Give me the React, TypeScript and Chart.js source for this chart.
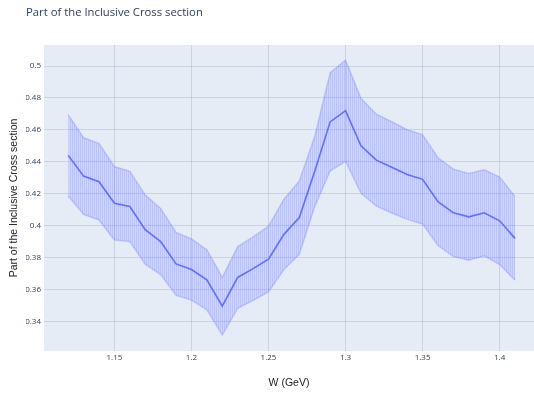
import React, { useEffect, useRef } from "react";
import { Chart, registerables } from "chart.js";

Chart.register(...registerables);

const W = [
  1.12, 1.13, 1.14, 1.15, 1.16, 1.17, 1.18, 1.19, 1.2, 1.21,
  1.22, 1.23, 1.24, 1.25, 1.26, 1.27, 1.28, 1.29, 1.3, 1.31,
  1.32, 1.33, 1.34, 1.35, 1.36, 1.37, 1.38, 1.39, 1.4, 1.41,
];
const partValues = [
  0.444, 0.431, 0.4275, 0.414, 0.412, 0.3975, 0.39, 0.376, 0.3725, 0.366,
  0.3495, 0.3675, 0.373, 0.379, 0.3945, 0.405, 0.434, 0.465, 0.472, 0.45,
  0.441, 0.4365, 0.432, 0.429, 0.415, 0.408, 0.4055, 0.408, 0.403, 0.392,
];
const errValues = [
  0.0255, 0.024, 0.024, 0.023, 0.022, 0.0217, 0.0207, 0.0197, 0.0192, 0.0188,
  0.0181, 0.0193, 0.0199, 0.0206, 0.022, 0.023, 0.022, 0.0308, 0.0317, 0.0298,
  0.0288, 0.0286, 0.0281, 0.028, 0.0275, 0.0274, 0.0272, 0.027, 0.0274, 0.0262,
];
const xTicks = [1.15, 1.2, 1.25, 1.3, 1.35, 1.4];
const yTicks = [0.34, 0.36, 0.38, 0.4, 0.42, 0.44, 0.46, 0.48, 0.5];

const TITLE = "Part of the Inclusive Cross section";
const X_TITLE = "W (GeV)";
const Y_TITLE = "Part of the Inclusive Cross section";

export default function App() {
  const ref = useRef<HTMLCanvasElement>(null);

  useEffect(() => {
    const canvas = ref.current;
    if (!canvas) return;
    const ctx = canvas.getContext("2d")!;
    const pc = document.createElement("canvas");
    pc.width = 2;
    pc.height = 4;
    const pctx = pc.getContext("2d")!;
    pctx.fillStyle = "rgba(99,110,250,0.32)";
    pctx.fillRect(0, 0, 1, 4);
    pctx.fillStyle = "rgba(99,110,250,0.17)";
    pctx.fillRect(1, 0, 1, 4);
    const pattern = ctx.createPattern(pc, "repeat")!;

    const mean = W.map((x, i) => ({ x, y: partValues[i] }));
    const upper = W.map((x, i) => ({ x, y: partValues[i] + errValues[i] }));
    const lower = W.map((x, i) => ({ x, y: partValues[i] - errValues[i] }));

    const bgPlugin = {
      id: "plotBg",
      beforeDraw(chart: any) {
        const { ctx: c, chartArea: a } = chart;
        c.save();
        c.fillStyle = "#E5ECF6";
        c.fillRect(a.left, a.top, a.right - a.left, a.bottom - a.top);
        c.restore();
      },
    };

    const gridColor = "rgba(150,160,180,0.32)";

    const chart = new Chart(ctx, {
      type: "line",
      data: {
        datasets: [
          {
            label: "Part",
            data: mean,
            borderColor: "#636EFA",
            borderWidth: 1.6,
            pointRadius: 0,
            fill: false,
            tension: 0,
            order: 0,
          },
          {
            label: "upper",
            data: upper,
            borderColor: "rgba(99,110,250,0.28)",
            borderWidth: 1.5,
            pointRadius: 0,
            backgroundColor: pattern,
            fill: "+1",
            tension: 0,
            order: 1,
          },
          {
            label: "lower",
            data: lower,
            borderColor: "rgba(99,110,250,0.28)",
            borderWidth: 1.5,
            pointRadius: 0,
            fill: false,
            tension: 0,
            order: 1,
          },
        ],
      },
      options: {
        responsive: false,
        animation: false,
        layout: { padding: { left: 26, right: 0, top: 0, bottom: 0 } },
        plugins: {
          legend: { display: false },
          tooltip: { enabled: false },
          title: {
            display: true,
            text: TITLE,
            align: "start",
            color: "#2a3f5f",
            font: { family: '"Open Sans", verdana, arial, sans-serif', size: 11.3, weight: "normal" },
            padding: { top: 5.5, bottom: 25.9 },
          },
        },
        scales: {
          x: {
            type: "linear",
            min: 1.1043,
            max: 1.4223,
            afterFit: (s: any) => {
              s.height = 45;
            },
            afterBuildTicks: (s: any) => {
              s.ticks = xTicks.map((v) => ({ value: v }));
            },
            grid: { color: gridColor, lineWidth: 1, drawTicks: false },
            border: { display: false },
            ticks: {
              color: "#2a3f5f",
              font: { family: '"Open Sans", verdana, arial, sans-serif', size: 8 },
              padding: 2,
              maxRotation: 0,
              autoSkip: false,
              callback: (v: any) => String(+Number(v).toFixed(3)),
            },
            title: {
              display: true,
              text: X_TITLE,
              color: "#222",
              font: { family: "Liberation Sans, Arial, sans-serif", size: 10.5 },
              padding: { top: 0, bottom: 6.7 },
            },
          },
          y: {
            type: "linear",
            min: 0.3214,
            max: 0.5132,
            afterFit: (s: any) => {
              s.width = 18;
            },
            afterBuildTicks: (s: any) => {
              s.ticks = yTicks.map((v) => ({ value: v }));
            },
            grid: { color: gridColor, lineWidth: 1, drawTicks: false },
            border: { display: false },
            ticks: {
              color: "#2a3f5f",
              font: { family: '"Open Sans", verdana, arial, sans-serif', size: 8 },
              padding: 3,
              autoSkip: false,
              callback: (v: any) => String(+Number(v).toFixed(3)),
            },
            title: {
              display: true,
              text: Y_TITLE,
              color: "#222",
              font: { family: "Liberation Sans, Arial, sans-serif", size: 10.5 },
              padding: { top: -18.3, bottom: 0 },
            },
          },
        },
      },
      plugins: [bgPlugin],
    });

    return () => chart.destroy();
  }, []);

  return (
    <div style={{ position: "fixed", left: 0, top: 0, width: 534, height: 396, background: "#fff" }}>
      <canvas ref={ref} width={534} height={396} style={{ width: 534, height: 396, display: "block" }} />
    </div>
  );
}
